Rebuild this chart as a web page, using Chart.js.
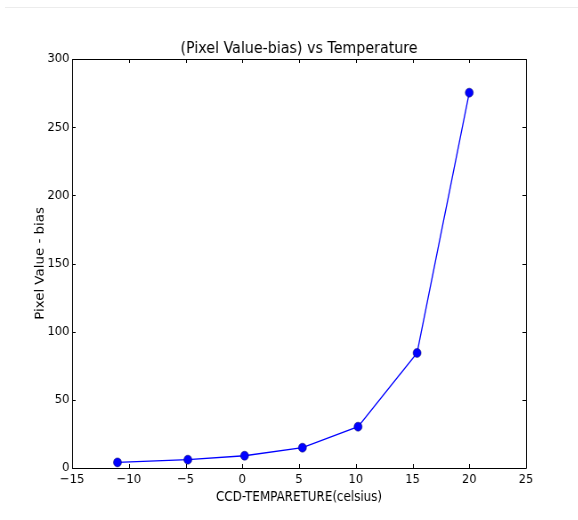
<!DOCTYPE html>
<html>
<head>
<meta charset="utf-8">
<script src="https://cdn.jsdelivr.net/npm/chart.js@4.4.0/dist/chart.umd.min.js"></script>
<style>
  html, body { margin: 0; padding: 0; background: #fff; }
  #wrap { position: relative; width: 578px; height: 520px; overflow: hidden; }
  #topline { position: absolute; left: 5px; right: 0; top: 7px; height: 1px; background: #ececec; }
  /* the reference is a slightly squeezed matplotlib figure: draw wide, squeeze horizontally */
  #squeeze { position: absolute; left: 0; top: 0; transform: scaleX(0.89); transform-origin: 0 0; }
</style>
</head>
<body>
<div id="wrap">
  <div id="topline"></div>
  <div id="squeeze">
    <canvas id="tempChart" width="650" height="520"></canvas>
  </div>
</div>
<script>
// data
const temps = [-11, -4.8, 0.2, 5.3, 10.2, 15.4, 20.0];
const pixelValues = [4.1, 6.1, 9.0, 14.9, 30.3, 84.4, 275.3];
const xTicks = [-15, -10, -5, 0, 5, 10, 15, 20, 25];
const yTicks = [0, 50, 100, 150, 200, 250, 300];

const FONT = "'DejaVu Sans', sans-serif";
const TITLE = '(Pixel Value-bias) vs Temperature';

// matplotlib-style frame with inward ticks on all four sides, plus the title
const frameTicks = {
    id: 'frameTicks',
    afterDatasetsDraw(chart) {
        const { ctx, chartArea: a, scales } = chart;
        const len = 4;
        ctx.save();
        ctx.strokeStyle = '#000';
        ctx.lineWidth = 1;
        ctx.beginPath();
        ctx.rect(Math.round(a.left) + 0.5, Math.round(a.top) + 0.5,
                 Math.round(a.right - a.left), Math.round(a.bottom - a.top));
        xTicks.forEach(v => {
            const x = Math.round(scales.x.getPixelForValue(v)) + 0.5;
            ctx.moveTo(x, a.bottom); ctx.lineTo(x, a.bottom - len);
            ctx.moveTo(x, a.top); ctx.lineTo(x, a.top + len);
        });
        yTicks.forEach(v => {
            const y = Math.round(scales.y.getPixelForValue(v)) + 0.5;
            ctx.moveTo(a.left, y); ctx.lineTo(a.left + len, y);
            ctx.moveTo(a.right, y); ctx.lineTo(a.right - len, y);
        });
        ctx.stroke();

        ctx.fillStyle = '#000';
        ctx.font = '16px ' + FONT;
        ctx.textAlign = 'center';
        ctx.textBaseline = 'middle';
        ctx.fillText(TITLE, (a.left + a.right) / 2, 49);
        ctx.restore();
    }
};

const minusSign = v => String(v).replace('-', '\u2212');

new Chart(document.getElementById('tempChart'), {
    type: 'scatter',
    data: {
        datasets: [{
            data: temps.map((t, i) => ({ x: t, y: pixelValues[i] })),
            showLine: true,
            borderColor: '#0000ff',
            borderWidth: 1.3,
            pointRadius: 4.5,
            pointBackgroundColor: '#0000ff',
            pointBorderColor: '#000060',
            pointBorderWidth: 0.5,
            clip: false
        }]
    },
    options: {
        responsive: false,
        animation: false,
        layout: { padding: { left: 0, right: 59, top: 59, bottom: 0 } },
        plugins: {
            legend: { display: false },
            tooltip: { enabled: false },
            title: { display: false }
        },
        scales: {
            x: {
                type: 'linear',
                min: -15,
                max: 25,
                afterBuildTicks: s => { s.ticks = xTicks.map(v => ({ value: v })); },
                afterFit: s => { s.height = 52; },
                grid: { display: false, drawTicks: false },
                border: { display: false },
                ticks: {
                    color: '#000',
                    padding: 4,
                    maxRotation: 0,
                    font: { family: FONT, size: 13 },
                    callback: minusSign
                },
                title: {
                    display: true,
                    text: 'CCD-TEMPARETURE(celsius)',
                    color: '#000',
                    font: { family: FONT, size: 13.4 },
                    padding: { top: 0, bottom: 14 }
                }
            },
            y: {
                type: 'linear',
                min: 0,
                max: 300,
                afterBuildTicks: s => { s.ticks = yTicks.map(v => ({ value: v })); },
                afterFit: s => { s.width = 81; },
                grid: { display: false, drawTicks: false },
                border: { display: false },
                ticks: {
                    color: '#000',
                    padding: 3,
                    font: { family: FONT, size: 13 },
                    callback: minusSign
                },
                title: {
                    display: true,
                    text: 'Pixel Value - bias',
                    color: '#000',
                    font: { family: FONT, size: 13.4 },
                    padding: { top: 37, bottom: 0 }
                }
            }
        }
    },
    plugins: [frameTicks]
});
</script>
</body>
</html>
